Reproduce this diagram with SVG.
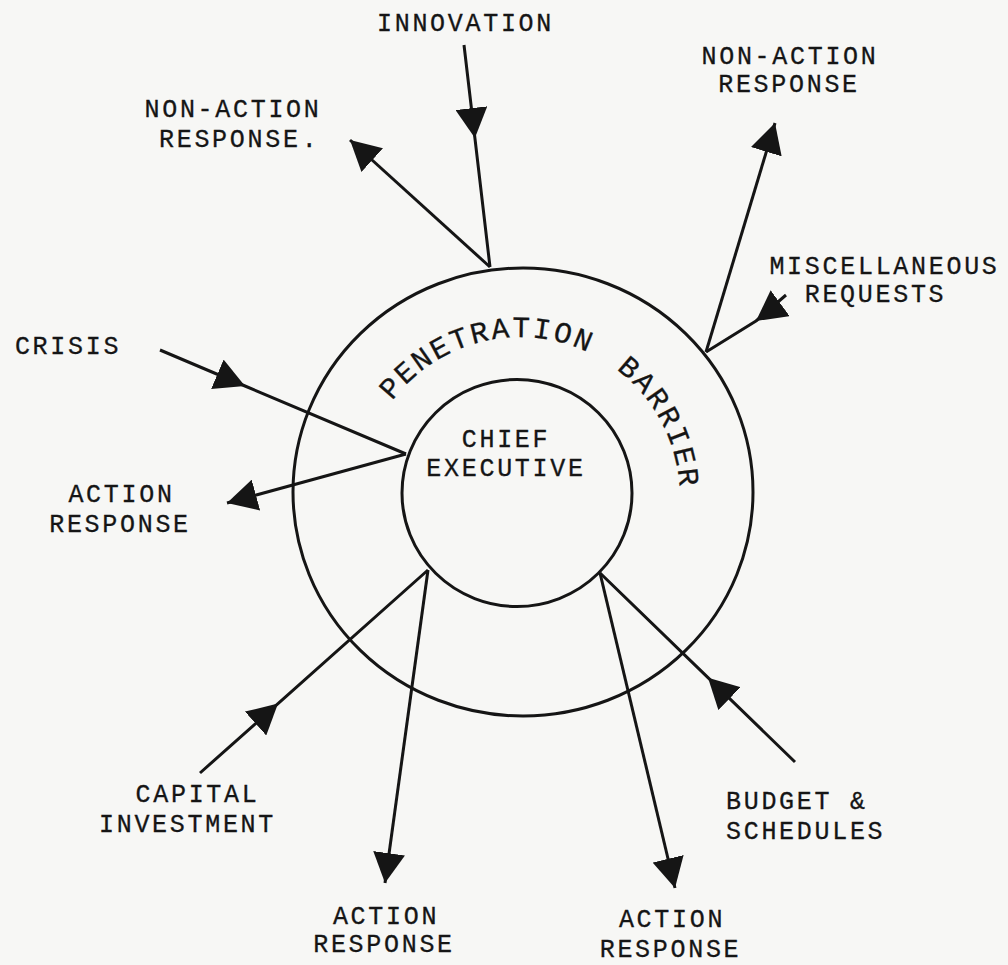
<svg xmlns="http://www.w3.org/2000/svg" width="1008" height="965" viewBox="0 0 1008 965">
<style>
.lbl{font-family:"Liberation Mono","Courier New",monospace;font-size:25px;letter-spacing:2.7px;fill:#151515;stroke:#151515;stroke-width:0.3}
.arc{font-family:"Liberation Mono","Courier New",monospace;font-size:29.5px;letter-spacing:2.3px;fill:#151515;stroke:#151515;stroke-width:0.3}
.mid{text-anchor:middle}
.ring{fill:none;stroke:#151515;stroke-width:3}
.con{fill:none;stroke:#151515;stroke-width:3;stroke-linejoin:round}
.cm{marker-mid:url(#ah)}
.ce{marker-end:url(#ah)}
</style>
<defs>
<marker id="ah" viewBox="0 0 30 32" refX="30" refY="16" markerWidth="30" markerHeight="32" markerUnits="userSpaceOnUse" orient="auto">
<path d="M0,0 L30,16 L0,32 Z" fill="#151515"/>
</marker>
<path id="arc" d="M 360 497 A 160 160 0 1 1 677.6 524.8"/>
</defs>
<rect width="1008" height="965" fill="#f7f7f5"/>
<g id="barrier">
<ellipse class="ring" cx="523" cy="492" rx="230" ry="224"/>
<text class="arc"><textPath href="#arc" startOffset="103">PENETRATION</textPath></text>
<text class="arc"><textPath href="#arc" startOffset="354">BARRIER</textPath></text>
</g>
<g id="chief-executive">
<ellipse class="ring" cx="517" cy="493" rx="115" ry="113.5"/>
<text class="lbl mid" x="506" y="447">CHIEF</text>
<text class="lbl mid" x="506" y="476">EXECUTIVE</text>
</g>
<g id="connectors">
<path class="con cm" d="M 464 45 L 474.9 138 L 490 267"/>
<path class="con ce" d="M 490 267 L 350 140"/>
<path class="con ce" d="M 706 352 L 775 123"/>
<path class="con cm" d="M 786 295 L 756 321 L 706 352"/>
<path class="con cm" d="M 160 350 L 245 386 L 406 454"/>
<path class="con ce" d="M 406 454 L 227 503"/>
<path class="con cm" d="M 200 773 L 278 703.6 L 428 570"/>
<path class="con ce" d="M 428 570 L 385 883"/>
<path class="con ce" d="M 600 573 L 675 888"/>
<path class="con cm" d="M 795 762 L 708 677.7 L 600 573"/>
</g>
<g id="innovation"><text class="lbl mid" x="465.5" y="31">INNOVATION</text></g>
<g id="non-action-response-left">
<text class="lbl mid" x="233" y="117">NON-ACTION</text>
<text class="lbl" x="159" y="147">RESPONSE<tspan dx="1">.</tspan></text>
</g>
<g id="non-action-response-right">
<text class="lbl mid" x="790" y="64">NON-ACTION</text>
<text class="lbl mid" x="789" y="92">RESPONSE</text>
</g>
<g id="misc-requests">
<text class="lbl mid" x="884.5" y="274">MISCELLANEOUS</text>
<text class="lbl mid" x="875.5" y="302">REQUESTS</text>
</g>
<g id="crisis"><text class="lbl mid" x="68" y="354">CRISIS</text></g>
<g id="action-response-left">
<text class="lbl mid" x="121.5" y="502">ACTION</text>
<text class="lbl mid" x="120" y="532">RESPONSE</text>
</g>
<g id="capital-investment">
<text class="lbl mid" x="197.5" y="802">CAPITAL</text>
<text class="lbl mid" x="187.5" y="832">INVESTMENT</text>
</g>
<g id="action-response-bottom-left">
<text class="lbl mid" x="386" y="924">ACTION</text>
<text class="lbl mid" x="384" y="952">RESPONSE</text>
</g>
<g id="budget-schedules">
<text class="lbl" x="726" y="809">BUDGET &amp;</text>
<text class="lbl" x="726" y="839">SCHEDULES</text>
</g>
<g id="action-response-bottom-right">
<text class="lbl mid" x="672" y="927">ACTION</text>
<text class="lbl mid" x="670.5" y="957">RESPONSE</text>
</g>
</svg>
